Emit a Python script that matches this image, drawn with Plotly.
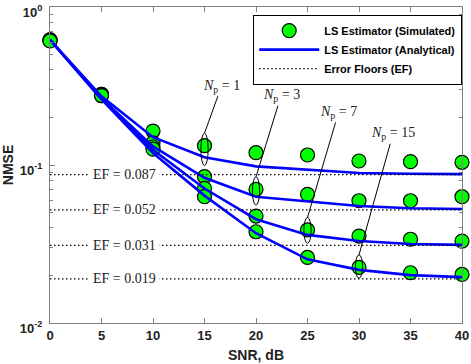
import numpy as np
import plotly.graph_objects as go

snr = [0, 5, 10, 15, 20, 25, 30, 35, 40]
pilots = [1, 3, 7, 15]

sim_np1 = [0.62, 0.28, 0.164, 0.1325, 0.1197, 0.1157, 0.106, 0.105, 0.104]
sim_np3 = [0.62, 0.28, 0.138, 0.0843, 0.0702, 0.0652, 0.0594, 0.0594, 0.063]
sim_np7 = [0.615, 0.275, 0.130, 0.0712, 0.0475, 0.0388, 0.0355, 0.0339, 0.033]
sim_np15 = [0.61, 0.275, 0.126, 0.063, 0.0378, 0.026, 0.0225, 0.0208, 0.0203]

ana_np1 = [0.62, 0.272, 0.150, 0.112, 0.098, 0.093, 0.089, 0.088, 0.0875]
ana_np3 = [0.62, 0.265, 0.131, 0.083, 0.063, 0.0586, 0.055, 0.0532, 0.0527]
ana_np7 = [0.62, 0.262, 0.125, 0.071, 0.0454, 0.0361, 0.033, 0.0316, 0.0312]
ana_np15 = [0.62, 0.260, 0.119, 0.064, 0.037, 0.0253, 0.0217, 0.0201, 0.0195]

error_floors = [0.087, 0.052, 0.031, 0.019]
ef_labels = ["EF = 0.087", "EF = 0.052", "EF = 0.031", "EF = 0.019"]

# SNR at which each N_p curve is marked with an ellipse
mark_snr = [15, 20, 25, 30]

ytick_vals = [0.01, 0.1, 1]
ytick_text = ["10<sup>-2</sup>", "10<sup>-1</sup>", "10<sup>0</sup>"]
xtick_vals = [0, 5, 10, 15, 20, 25, 30, 35, 40]
minor_y = [0.02, 0.03, 0.04, 0.05, 0.06, 0.07, 0.08, 0.09,
           0.2, 0.3, 0.4, 0.5, 0.6, 0.7, 0.8, 0.9]

sims = [sim_np1, sim_np3, sim_np7, sim_np15]
anas = [ana_np1, ana_np3, ana_np7, ana_np15]

SANS = "Liberation Sans, Arial, Helvetica"
SERIF = "Liberation Serif, Times New Roman, serif"

fig = go.Figure()

for i, s in enumerate(sims):
    fig.add_trace(go.Scatter(
        x=snr, y=s, mode="markers",
        marker=dict(symbol="circle", size=14, color="#00FF00",
                    line=dict(color="black", width=1.2)),
        name="LS Estimator (Simulated)", legendgroup="sim",
        showlegend=(i == 0), cliponaxis=False))

for i, a in enumerate(anas):
    fig.add_trace(go.Scatter(
        x=snr, y=a, mode="lines",
        line=dict(color="#0000FF", width=2.6),
        name="LS Estimator (Analytical)", legendgroup="ana",
        showlegend=(i == 0)))

for i, ef in enumerate(error_floors):
    fig.add_trace(go.Scatter(
        x=[snr[0], snr[-1]], y=[ef, ef], mode="lines",
        line=dict(color="black", width=1.2, dash="1.5px,2.5px"),
        name="Error Floors (EF)", legendgroup="ef",
        showlegend=(i == 0)))

annotations = []
shapes = []

# EF labels with white background covering the dotted line
for ef, lab in zip(error_floors, ef_labels):
    annotations.append(dict(
        x=7.2, y=np.log10(ef), xref="x", yref="y", text=lab,
        showarrow=False, bgcolor="white", borderpad=3,
        font=dict(family=SERIF, size=14, color="#222")))

# ellipses and N_p labels
offsets = [(17, -47), (25, -81), (31, -105), (34, -121)]
for k, (npv, xs) in enumerate(zip(pilots, mark_snr)):
    idx = snr.index(xs)
    hi = max(sims[k][idx], anas[k][idx]) * 1.2
    lo = min(sims[k][idx], anas[k][idx]) / 1.13
    shapes.append(dict(type="circle", xref="x", yref="y",
                       x0=xs - 0.35, x1=xs + 0.35, y0=lo, y1=hi,
                       line=dict(color="black", width=1)))
    annotations.append(dict(
        x=xs, y=np.log10(hi), xref="x", yref="y",
        text="<i>N</i><sub>p</sub> = %d" % npv,
        showarrow=True, arrowhead=0, arrowwidth=1, arrowcolor="black",
        ax=offsets[k][0], ay=offsets[k][1], standoff=0,
        font=dict(family=SERIF, size=14, color="#222")))

fig.update_layout(
    width=471, height=364,
    margin=dict(l=50, r=9, t=7, b=41, autoexpand=False),
    paper_bgcolor="white", plot_bgcolor="white",
    showlegend=True,
    legend=dict(x=1.0, xanchor="right", y=0.975, yanchor="top",
                bgcolor="white", bordercolor="black", borderwidth=1.2,
                font=dict(family=SANS, size=11, color="black", weight="bold"),
                itemwidth=60, tracegroupgap=0, traceorder="normal"),
    annotations=annotations, shapes=shapes,
)

fig.update_xaxes(
    range=[0, 40], tickvals=xtick_vals, ticks="inside", ticklen=5,
    showline=True, linecolor="#808080", linewidth=1, mirror="ticks",
    tickcolor="#808080", showgrid=False, zeroline=False, automargin=False,
    ticklabeloverflow="allow",
    tickfont=dict(family=SANS, size=13, color="#222", weight="bold"),
    title=dict(text="SNR, dB", standoff=8,
               font=dict(family=SANS, size=14, color="#222", weight="bold")))

fig.update_yaxes(
    type="log", range=[-2, 0], tickvals=ytick_vals, ticktext=ytick_text,
    ticks="inside", ticklen=5,
    minor=dict(tickvals=minor_y, ticks="inside", ticklen=3, tickcolor="#808080"),
    showline=True, linecolor="#808080", linewidth=1, mirror="ticks",
    tickcolor="#808080", showgrid=False, zeroline=False, automargin=False,
    ticklabeloverflow="allow", ticklabelshift=5,
    tickfont=dict(family=SANS, size=13, color="#222", weight="bold"),
    ticklabelstandoff=4,
    title=dict(text="NMSE", standoff=2,
               font=dict(family=SANS, size=14, color="#222", weight="bold")))

fig.write_html("out.html",
               config={"displayModeBar": False},
               post_script="document.body.style.margin='0';")
